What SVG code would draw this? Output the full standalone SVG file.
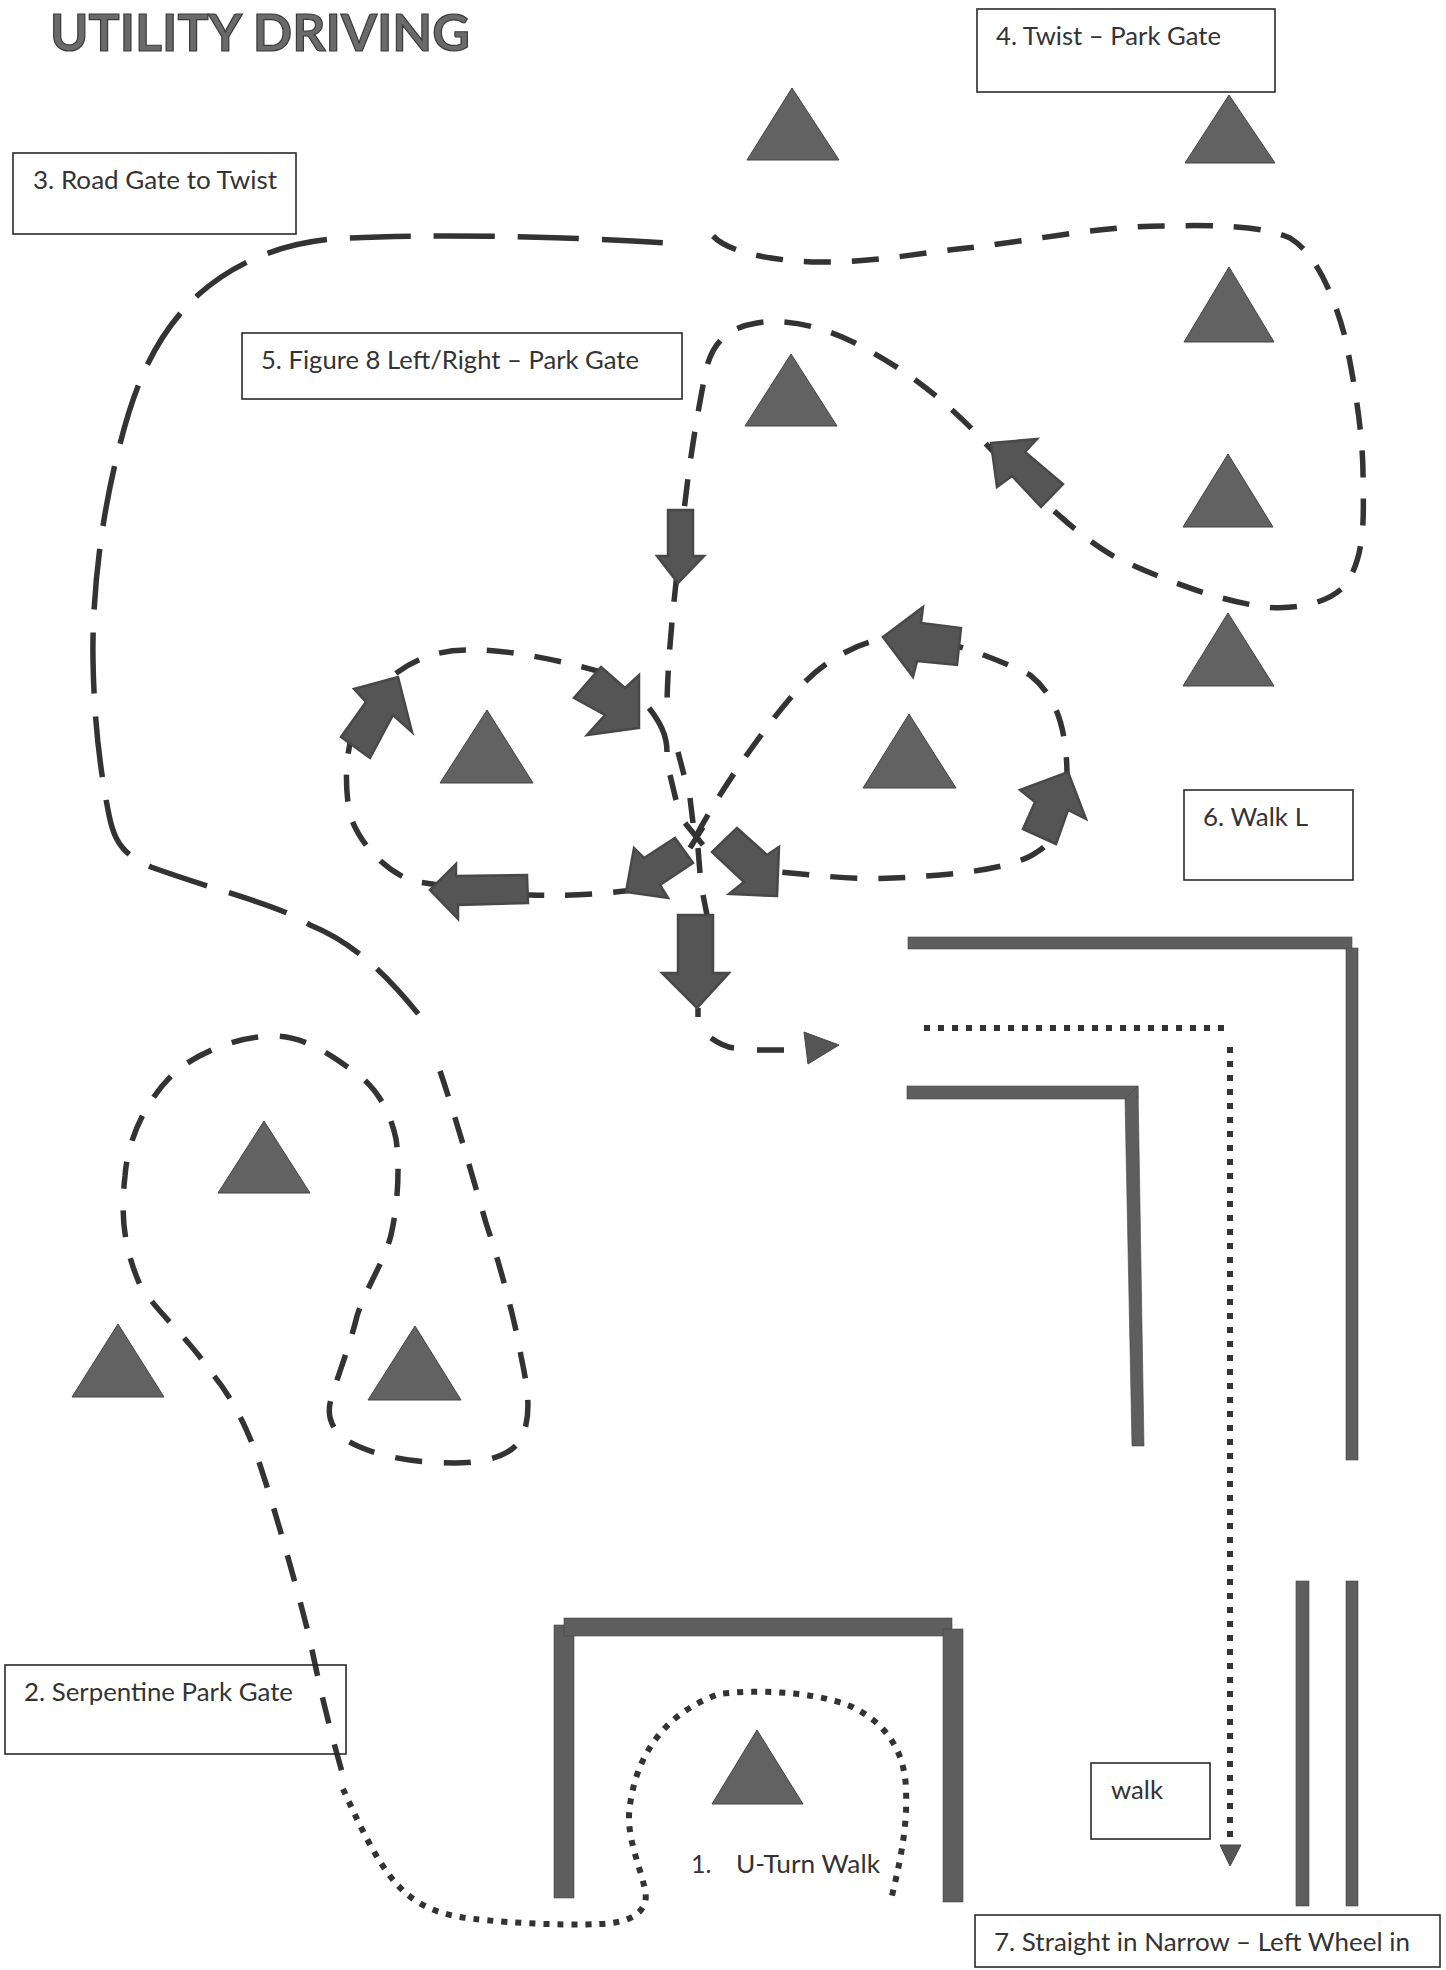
<svg xmlns="http://www.w3.org/2000/svg" width="1446" height="1970" viewBox="0 0 1446 1970">
<style>
.box{fill:#fff;stroke:#2a2a2a;stroke-width:1.6}
.t{font-family:"Lato","Noto Sans","Liberation Sans",sans-serif;font-size:25px;fill:#333}
.title{font-family:"Lato","Noto Sans","Liberation Sans",sans-serif;font-size:51px;font-weight:700;fill:#6a6a6a;stroke:#3a3a3a;stroke-width:1.2}
.tri{fill:#626262;stroke:#444;stroke-width:1}
.wall{fill:#5e5e5e;stroke:#444;stroke-width:.6}
.arrow{fill:#555;stroke:#484848;stroke-width:2.5;stroke-linejoin:miter}
.small{stroke-width:1}
.line{fill:none;stroke:#333;stroke-width:5.5}
.long{stroke-dasharray:61 23;stroke-dashoffset:-20}
.med{stroke-dasharray:27 21}
.med2{stroke-dasharray:27 21.7}
.dot{fill:none;stroke:#333;stroke-width:6;stroke-dasharray:6 8}
</style>
<rect width="1446" height="1970" fill="#fff"/>
<text class="title" x="50" y="51" textLength="420" lengthAdjust="spacingAndGlyphs">UTILITY DRIVING</text>

<g id="walls">
<rect class="wall" x="908" y="937" width="444" height="12"/>
<rect class="wall" x="1346" y="948" width="12" height="512"/>
<rect class="wall" x="907" y="1086" width="231" height="13"/>
<polygon class="wall" points="1125,1099 1138,1086 1144,1446 1132,1446"/>
<rect class="wall" x="1296" y="1581" width="13" height="325"/>
<rect class="wall" x="1346" y="1581" width="12" height="325"/>
<rect class="wall" x="554" y="1625" width="20" height="273"/>
<rect class="wall" x="564" y="1618" width="388" height="18"/>
<rect class="wall" x="943" y="1629" width="20" height="273"/>
</g>

<g id="cones">
<polygon class="tri" points="792,88 747,160 839,160"/>
<polygon class="tri" points="1229,95 1185,163 1275,163"/>
<polygon class="tri" points="1229,267 1184,342 1274,342"/>
<polygon class="tri" points="791,354 745,426 837,426"/>
<polygon class="tri" points="1228,454 1183,527 1273,527"/>
<polygon class="tri" points="1228,613 1183,686 1274,686"/>
<polygon class="tri" points="487,710 440,783 533,783"/>
<polygon class="tri" points="909,714 863,788 956,788"/>
<polygon class="tri" points="264,1121 218,1193 310,1193"/>
<polygon class="tri" points="118,1324 72,1397 164,1397"/>
<polygon class="tri" points="415,1326 368,1400 461,1400"/>
<polygon class="tri" points="757,1730 712,1804 803,1804"/>
</g>

<g id="connectors">
<path class="line long" d="M431,1029 L424,1021 C395,985 360,945 310,925 C280,905 220,892 151,867 C125,855 115,845 109,815 C100,770 94,720 93,660 C92,600 100,520 120,444 C135,385 155,335 198,295 C235,262 285,240 350,238 C430,234 560,236 665,243"/>
<path class="line med" d="M713,236 C728,252 770,261 820,262 C870,263 920,253 967,248 C1030,241 1100,226 1163,226 C1210,225 1262,225 1290,238 C1318,255 1335,300 1345,337 C1355,385 1364,440 1363,484 C1364,520 1364,555 1348,581 C1335,602 1295,612 1258,606 C1210,598 1160,578 1119,559 C1075,537 1010,470 972,429 C935,392 900,366 853,342 C820,326 785,318 757,323 C725,328 712,345 706,370 C696,420 688,470 682,530 C675,590 668,650 667,703"/>
<path class="line med" d="M695,838 C720,790 768,722 800,687 C830,655 870,635 910,637 C950,640 1000,660 1030,675 C1055,695 1066,725 1067,772 C1068,810 1060,838 1037,852 C1015,868 960,875 893,878 C860,880 820,876 780,872"/>
<path class="line med" d="M640,889 C600,895 560,896 530,895 C490,893 450,887 412,881 C385,870 360,845 350,815 C345,790 345,760 352,735 C365,690 410,650 466,650 C510,648 580,665 610,675"/>
<path class="line" d="M649,708 C660,722 667,735 667,752 M678,752 L684,775 M670,775 L676,800 M690,798 L693,823 M685,823 L703,845 M703,827 L690,848 M698,848 L700,873 M703,895 L707,915 M698,1008 L698,1017 M711,1038 C718,1043 725,1047 734,1048 M757,1050 L784,1050"/>
<path class="line med2" d="M440,1071 C455,1115 475,1185 486,1223 C500,1265 515,1320 521,1356 C527,1385 533,1415 521,1439 C510,1458 480,1463 454,1463 C420,1463 385,1458 360,1447 C335,1437 325,1420 331,1399 C338,1375 350,1345 357,1316 C365,1290 385,1260 391,1235 C398,1205 400,1165 396,1139 C390,1110 375,1085 353,1071 C325,1050 300,1036 274,1036 C240,1036 205,1050 180,1068 C150,1093 128,1135 125,1176 C120,1220 125,1250 140,1285 C155,1310 190,1340 210,1371 C235,1400 250,1435 260,1465 C275,1510 295,1580 310,1640 C320,1690 330,1730 342,1772"/>
<path class="dot" d="M343,1789 C355,1815 375,1860 395,1882 C410,1900 430,1912 460,1917 C490,1922 560,1926 600,1924 C630,1923 650,1912 645,1890 C640,1865 625,1835 630,1805 C636,1760 660,1715 719,1694 C750,1690 810,1690 850,1706 C885,1722 905,1750 906,1790 C908,1830 898,1870 891,1900"/>
<path class="dot" d="M924,1028 L1226,1028 M1230,1047 L1230,1847"/>
<polygon class="arrow small" points="1220,1845 1241,1845 1230,1866"/>
<polygon class="arrow" points="668,510 693,510 693,556 704,556 678,583 657,556 668,556"/>
<polygon class="arrow" points="991,443 1037,439 1025,452 1063,484 1041,507 1012,476 997,487"/>
<polygon class="arrow" points="398,677 412,732 393,715 370,758 341,737 366,702 354,689"/>
<polygon class="arrow" points="601,667 625,688 639,675 639,728 587,735 605,715 574,698"/>
<polygon class="arrow" points="883,637 923,607 921,623 961,628 957,665 917,661 913,677"/>
<polygon class="arrow" points="1068,772 1086,819 1068,810 1056,844 1023,829 1035,802 1020,790"/>
<polygon class="arrow" points="430,890 456,864 456,876 527,875 528,903 458,905 458,919"/>
<polygon class="arrow" points="626,892 634,848 644,858 675,838 693,863 660,885 668,898"/>
<polygon class="arrow" points="737,828 767,855 779,847 777,896 729,894 744,882 712,852"/>
<polygon class="arrow" points="678,915 713,915 713,973 729,973 697,1008 662,973 678,973"/>
<polygon class="arrow small" points="804,1032 839,1045 808,1064"/>
</g>

<g id="node-1"><text class="t" x="691" y="1873">1.<tspan x="736" textLength="144" lengthAdjust="spacingAndGlyphs">U-Turn Walk</tspan></text></g>
<g id="node-2"><rect class="box" x="5" y="1665" width="341" height="89" style="fill:none"/><text class="t" x="24" y="1701" textLength="269" lengthAdjust="spacingAndGlyphs">2. Serpentine Park Gate</text></g>
<g id="node-3"><rect class="box" x="13" y="153" width="283" height="81"/><text class="t" x="33" y="189" textLength="244" lengthAdjust="spacingAndGlyphs">3. Road Gate to Twist</text></g>
<g id="node-4"><rect class="box" x="977" y="9" width="298" height="83"/><text class="t" x="996" y="45" textLength="225" lengthAdjust="spacingAndGlyphs">4. Twist – Park Gate</text></g>
<g id="node-5"><rect class="box" x="242" y="333" width="440" height="66"/><text class="t" x="261" y="369" textLength="378" lengthAdjust="spacingAndGlyphs">5. Figure 8 Left/Right – Park Gate</text></g>
<g id="node-6"><rect class="box" x="1184" y="790" width="169" height="90"/><text class="t" x="1203" y="826" textLength="105" lengthAdjust="spacingAndGlyphs">6. Walk L</text></g>
<g id="node-walk"><rect class="box" x="1091" y="1763" width="119" height="76"/><text class="t" x="1111" y="1799" textLength="52" lengthAdjust="spacingAndGlyphs">walk</text></g>
<g id="node-7"><rect class="box" x="975" y="1915" width="465" height="52"/><text class="t" x="994" y="1951" textLength="416" lengthAdjust="spacingAndGlyphs">7. Straight in Narrow – Left Wheel in</text></g>
</svg>
